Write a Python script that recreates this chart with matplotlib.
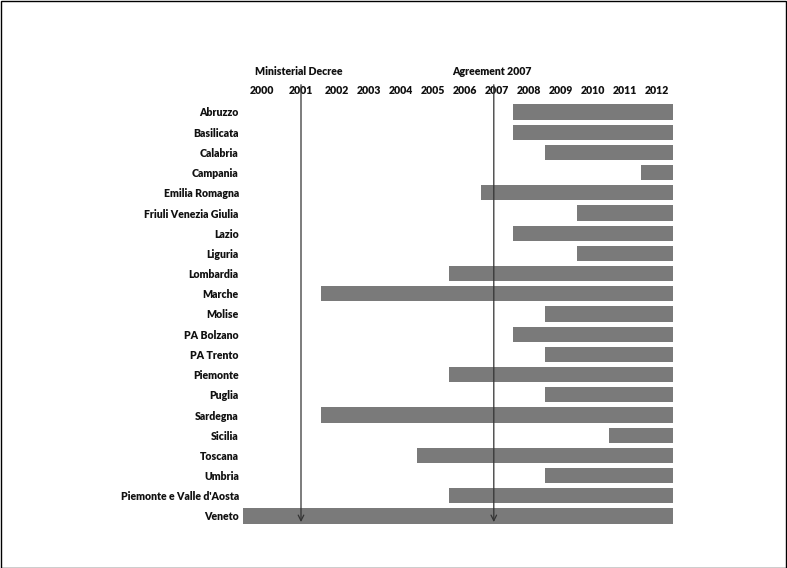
import numpy as np
import matplotlib
matplotlib.use('Agg')
import matplotlib.pyplot as plt
from matplotlib.patches import Rectangle

plt.rcParams['font.family'] = ['Lato', 'DejaVu Sans']

regions = ['Abruzzo', 'Basilicata', 'Calabria', 'Campania', 'Emilia Romagna',
           'Friuli Venezia Giulia', 'Lazio', 'Liguria', 'Lombardia', 'Marche',
           'Molise', 'PA Bolzano', 'PA Trento', 'Piemonte', 'Puglia', 'Sardegna',
           'Sicilia', 'Toscana', 'Umbria', "Piemonte e Valle d'Aosta", 'Veneto']
start_years = [2008, 2008, 2009, 2012, 2007, 2010, 2008, 2010, 2006, 2002,
               2009, 2008, 2009, 2006, 2009, 2002, 2011, 2005, 2009, 2006, 2000]
end_year = 2013
years = list(range(2000, 2013))
events = ['Ministerial Decree', 'Agreement 2007']
event_years = [2001.5, 2007.4]

# the year columns are not evenly wide in the original (2000 and 2001 wider)
edge_years = [2000, 2001, 2002, 2013]
edge_px = [243, 281, 321, 673]


def fwd(x):
    return np.interp(x, edge_years, edge_px)


def inv(x):
    return np.interp(x, edge_px, edge_years)


W, H = 787, 568
fig = plt.figure(figsize=(W / 100, H / 100), dpi=100)
fig.patches.append(Rectangle((0.5 / W, 0.5 / H), 1 - 1.5 / W, 1 - 1.5 / H,
                             transform=fig.transFigure, fill=False,
                             edgecolor='black', linewidth=1))

row_h = 20.2
top_px = 112 - row_h / 2
bot_px = 112 + row_h * 20 + row_h / 2
ax = fig.add_axes([243 / W, 1 - bot_px / H, 430 / W, (bot_px - top_px) / H])
ax.set_xscale('function', functions=(fwd, inv))

y = np.arange(len(regions))
widths = [end_year - s for s in start_years]
ax.barh(y, widths, left=start_years, height=0.75, color='#7a7a7a', zorder=2)

ax.set_xlim(2000, 2013)
ax.set_ylim(len(regions) - 0.5, -0.5)
ax.set_yticks(y)
ax.set_yticklabels(regions)
ax.set_xticks([yr + 0.5 for yr in years])
ax.set_xticklabels([str(yr) for yr in years])
ax.xaxis.set_minor_locator(matplotlib.ticker.NullLocator())
ax.tick_params(axis='x', top=True, labeltop=True, bottom=False,
               labelbottom=False, length=0, pad=4)
ax.tick_params(axis='y', length=0, pad=3)
for lab in ax.get_xticklabels() + ax.get_yticklabels():
    lab.set_fontweight('heavy')
    lab.set_fontsize(7.6)
    lab.set_color('#111111')
for s in ax.spines.values():
    s.set_visible(False)

for name, ex in zip(events, event_years):
    ax.annotate('', xy=(ex, 20.3), xytext=(ex, -1.35), annotation_clip=False,
                arrowprops=dict(arrowstyle='->', color='#333333', lw=0.9,
                                shrinkA=0, shrinkB=0), zorder=3)
    ax.text(ex - 0.05, -2.02, name, ha='center', va='center', fontsize=7.6,
            fontweight='heavy', color='#111111', clip_on=False)

fig.savefig('out.png', dpi=100)
